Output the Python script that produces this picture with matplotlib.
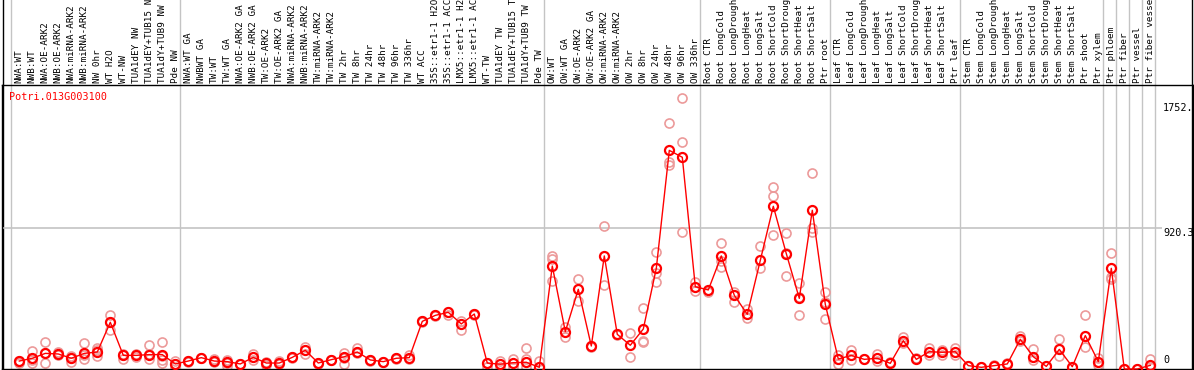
import matplotlib
matplotlib.use("Agg")
import matplotlib.pyplot as plt
from matplotlib.transforms import blended_transform_factory


W, H = 1194, 370

gene = "Potri.013G003100"

samples = [
    "NWA:WT", "NWB:WT", "NWA:OE-ARK2", "NWB:OE-ARK2", "NWA:miRNA-ARK2",
    "NWB:miRNA-ARK2", "NW 0hr", "WT H2O", "WT-NW", "TUA1dEY NW",
    "TUA1dEY+TUB15 NW", "TUA1dY+TUB9 NW", "Pde NW",
    "NWA:WT GA", "NWBWT GA", "TW:WT", "TW:WT GA", "NWA:OE-ARK2 GA",
    "NWB:OE-ARK2 GA", "TW:OE-ARK2", "TW:OE-ARK2 GA", "NWA:miRNA-ARK2 GA",
    "NWB:miRNA-ARK2 GA", "TW:miRNA-ARK2", "TW:miRNA-ARK2", "TW 2hr", "TW 8hr",
    "TW 24hr", "TW 48hr", "TW 96hr", "TW 336hr", "WT ACC", "35S::etr1-1 H2O",
    "35S::etr1-1 ACC", "LMX5::etr1-1 H2O", "LMX5::etr1-1 ACC", "WT-TW",
    "TUA1dEY TW", "TUA1dEY+TUB15 TW", "TUA1dY+TUB9 TW", "Pde TW",
    "OW:WT", "OW:WT GA", "OW:OE-ARK2", "OW:OE-ARK2 GA", "OW:miRNA-ARK2",
    "OW:miRNA-ARK2", "OW 2hr", "OW 8hr", "OW 24hr", "OW 48hr", "OW 96hr",
    "OW 336hr",
    "Root CTR", "Root LongCold", "Root LongDrought", "Root LongHeat",
    "Root LongSalt", "Root ShortCold", "Root ShortDrought", "Root ShortHeat",
    "Root ShortSalt", "Ptr root",
    "Leaf CTR", "Leaf LongCold", "Leaf LongDrought", "Leaf LongHeat",
    "Leaf LongSalt", "Leaf ShortCold", "Leaf ShortDrought", "Leaf ShortHeat",
    "Leaf ShortSalt", "Ptr leaf",
    "Stem CTR", "Stem LongCold", "Stem LongDrought", "Stem LongHeat",
    "Stem LongSalt", "Stem ShortCold", "Stem ShortDrought", "Stem ShortHeat",
    "Stem ShortSalt", "Ptr shoot", "Ptr xylem",
    "Ptr phloem", "Ptr fiber", "Ptr vessel", "Ptr fiber vessel",
]

means = [
    52, 70, 102, 98, 70, 102, 111, 305, 89, 89, 94, 94, 33,
    52, 74, 52, 48, 33, 76, 39, 39, 76, 122, 39, 61, 80, 111, 59, 48, 70,
    74, 311, 350, 370, 294, 359, 39, 31, 41, 44, 11,
    672, 244, 520, 150, 738, 226, 155, 261, 657, 1427, 1382, 537,
    516, 738, 481, 357, 709, 1062, 753, 461, 1036, 422,
    65, 89, 63, 70, 37, 185, 63, 113, 109, 113,
    22, 11, 22, 33, 194, 80, 17, 128, 15, 218, 48,
    657, 0, 0, 24,
]

replicates = [
    [52, 41, 45], [117, 41, 59], [174, 37, 102], [113, 91, 98], [85, 48, 74],
    [170, 63, 91], [139, 87, 124], [355, 255, 305], [63, 98, 89], [89, 80, 95],
    [157, 63, 98], [174, 59, 37, 85], [52, 15, 33],
    [48, 52], [70, 74], [63, 43], [59, 20, 37], [33, 30], [98, 59], [48, 26],
    [52, 33], [80, 70], [146, 98], [39, 35], [61, 57], [107, 30, 74],
    [139, 111, 102], [59, 55], [48, 44], [70, 66], [91, 65], [311, 305],
    [350, 345], [370, 355], [311, 255], [359, 355], [39, 11], [52, 15],
    [65, 11], [135, 63, 11], [52, 11],
    [738, 716, 574], [272, 211], [585, 446], [150, 143], [933, 548], [222],
    [233, 76], [400, 183, 176], [762, 570, 629], [1604, 1351, 1330],
    [1767, 1480, 892], [570, 511],
    [503], [820, 664, 705], [503, 439], [390, 335], [803, 657],
    [1186, 1127, 875], [886, 760, 607], [563, 350, 470], [1279, 918, 896],
    [503, 439, 324],
    [91, 33], [124, 59], [63], [98, 52], [43], [211, 168], [70], [135, 91],
    [124, 91], [135, 91],
    [22], [11], [26], [41], [215, 183], [128, 59], [17], [194, 85], [15],
    [350, 146], [70, 26],
    [755, 603, 590], [0], [0], [63, 11],
]

# first sample of each tissue block, plus the end
group_starts = [0, 13, 41, 53, 63, 73, 84, 85, 86, 87, 88]

y_labels = ["1752.4", "920.3", "0"]
y_label_values = [1752.4, 920.3, 0]


def px_x(px):
    # pixel column -> sample coordinate
    return (px - 19.3) / 13.0


def main():
    fig = plt.figure(figsize=(W / 100, H / 100), dpi=100)
    fig.patch.set_facecolor("white")
    ax = fig.add_axes([2 / W, 1 / H, (1193 - 2) / W, (369 - 85) / H])

    ymax = 284 * 6.527
    ax.set_xlim(px_x(2), px_x(1193))
    ax.set_ylim(0, ymax)
    ax.set_xticks([])
    ax.set_yticks([])
    for s in ax.spines.values():
        s.set_color("black")
        s.set_linewidth(1.0)

    grey = "#c4c4c4"
    ext = 1 + 85 / 284
    for g in group_starts:
        ax.axvline(g - 0.64, ymin=0, ymax=ext, color=grey, lw=1.0,
                   clip_on=False, zorder=1)
    for px in (2.5, 1192.5):
        ax.axvline(px_x(px), ymin=0, ymax=ext, color="black", lw=1.0,
                   clip_on=False, zorder=1)
    ax.hlines(920.3, px_x(2), px_x(1162), color=grey, lw=1.2, zorder=1)

    xs = list(range(len(samples)))
    for i, reps in enumerate(replicates):
        ax.plot([i] * len(reps), reps, "o", ms=6.5, mfc="none",
                mec="#ec9a9a", mew=1.2, zorder=2, clip_on=False)
    ax.plot(xs, means, "-", color="red", lw=1.0, zorder=3, clip_on=False)
    ax.plot(xs, means, "o", ms=6.5, mfc="none", mec="red", mew=1.6,
            zorder=4, clip_on=False)

    trans = blended_transform_factory(ax.transData, ax.transAxes)
    for i, name in enumerate(samples):
        ax.text(i, 1 + 2 / 284, name, transform=trans, rotation=90,
                ha="center", va="bottom", fontsize=6.7,
                family="DejaVu Sans Mono", color="black", clip_on=False)

    fig.text(9 / W, (H - 97) / H, gene, color="red", fontsize=7.3,
             family="DejaVu Sans Mono", ha="left", va="center")

    tops = [103, 228, None]
    for lab, val, top in zip(y_labels, y_label_values, tops):
        if top is None:
            fig.text(1163 / W, (H - 365) / H, lab, fontsize=7.3,
                     family="DejaVu Sans Mono", ha="left", va="bottom")
        else:
            fig.text(1163 / W, (H - top) / H, lab, fontsize=7.3,
                     family="DejaVu Sans Mono", ha="left", va="top")

    fig.savefig("out.png", dpi=100)


if __name__ == "__main__":
    main()
